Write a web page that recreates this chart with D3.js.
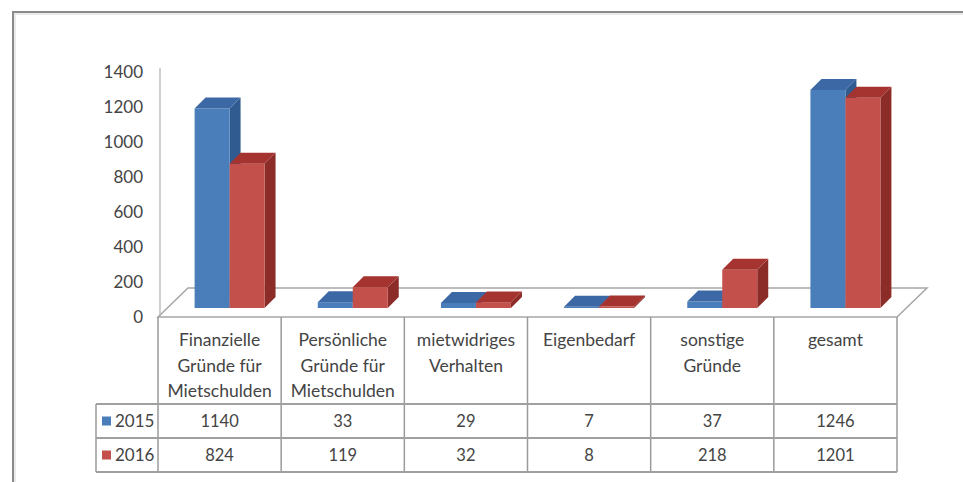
<!DOCTYPE html>
<html>
<head>
<meta charset="utf-8">
<script src="https://cdn.jsdelivr.net/npm/d3@7"></script>
<style>
  body { margin: 0; background: #fff; }
  text { font-family: Lato, "Open Sans", sans-serif; fill: #444; }
</style>
</head>
<body>
<div class="container"></div>
<script>
var categories = [
    ['Finanzielle', 'Gründe für', 'Mietschulden'],
    ['Persönliche', 'Gründe für', 'Mietschulden'],
    ['mietwidriges', 'Verhalten'],
    ['Eigenbedarf'],
    ['sonstige', 'Gründe'],
    ['gesamt']
];
var seriesNames = ['2015', '2016'];
var values2015 = [1140, 33, 29, 7, 37, 1246];
var values2016 = [824, 119, 32, 8, 218, 1201];
var yTicks = [0, 200, 400, 600, 800, 1000, 1200, 1400];

const WIDTH = 963;
const HEIGHT = 482;
const FLOOR_Y = 317;
const TABLE_LEFT = 96;
const PLOT_LEFT = 158;
const PLOT_RIGHT = 897;
const DEPTH = {x: 30, y: -29};
const BAR_OFFSET = {x: 10, y: -9};
const BAR_DEPTH = {x: 11, y: -11};

var colors = {
    '2015': {front: '#4a7ebb', side: '#2f5b90', top: '#3c69a5'},
    '2016': {front: '#c4504c', side: '#8c2c29', top: '#a5332f'}
};

var catIndex = categories.map(function (c, i) { return i; });

var seriesData = [
    {name: seriesNames[0], values: values2015},
    {name: seriesNames[1], values: values2016}
];

var poly = function (pts) {
    return pts.map(function (p) { return p[0] + ',' + p[1]; }).join(' ');
};

var visualize = function () {
    var svg = d3.select('.container').append('svg')
        .attr('width', WIDTH)
        .attr('height', HEIGHT);

    svg.append('rect').attr('width', WIDTH).attr('height', HEIGHT).attr('fill', '#fff');

    // outer frame
    svg.append('path')
        .attr('d', 'M13,' + HEIGHT + 'V12H' + WIDTH)
        .attr('fill', 'none')
        .attr('stroke', '#8a8a8a')
        .attr('stroke-width', 2);
    svg.append('path')
        .attr('d', 'M15,' + HEIGHT + 'V14H' + WIDTH)
        .attr('fill', 'none')
        .attr('stroke', '#e4e4e4')
        .attr('stroke-width', 1.5);

    var yScale = d3.scaleLinear().domain([0, 1400]).range([FLOOR_Y, 72]);
    var x0 = d3.scaleBand().domain(catIndex).range([PLOT_LEFT, PLOT_RIGHT]).paddingInner(0);
    var x1 = d3.scaleBand().domain(seriesNames).range([0, x0.bandwidth()]).paddingOuter(0.76).paddingInner(0);

    // floor
    svg.append('polygon')
        .attr('points', poly([
            [PLOT_LEFT, FLOOR_Y],
            [PLOT_LEFT + DEPTH.x, FLOOR_Y + DEPTH.y],
            [PLOT_RIGHT + DEPTH.x, FLOOR_Y + DEPTH.y],
            [PLOT_RIGHT, FLOOR_Y]
        ]))
        .attr('fill', '#fff')
        .attr('stroke', '#a6a6a6')
        .attr('stroke-width', 1.5);

    // value axis
    svg.append('line')
        .attr('x1', PLOT_LEFT + 2).attr('x2', PLOT_LEFT + 2)
        .attr('y1', FLOOR_Y).attr('y2', 68)
        .attr('stroke', '#b0b0b0')
        .attr('stroke-width', 1.2);

    svg.append('g').selectAll('text')
        .data(yTicks)
        .enter().append('text')
        .attr('x', 143)
        .attr('y', function (d) { return yScale(d); })
        .attr('dy', '0.35em')
        .attr('text-anchor', 'end')
        .style('font-size', '17px')
        .text(function (d) { return d; });

    // bars
    var bars = [];
    catIndex.forEach(function (ci) {
        seriesData.forEach(function (s) {
            bars.push({cat: ci, name: s.name, value: s.values[ci]});
        });
    });

    var barGroup = svg.append('g').classed('bars', true);
    bars.forEach(function (b) {
        var xl = x0(b.cat) + x1(b.name) + BAR_OFFSET.x;
        var xr = xl + x1.bandwidth();
        var yb = FLOOR_Y + BAR_OFFSET.y;
        var yt = yScale(b.value) + BAR_OFFSET.y;
        var c = colors[b.name];
        barGroup.append('polygon')
            .attr('points', poly([[xr, yb], [xr, yt], [xr + BAR_DEPTH.x, yt + BAR_DEPTH.y], [xr + BAR_DEPTH.x, yb + BAR_DEPTH.y]]))
            .attr('fill', c.side);
        barGroup.append('rect')
            .attr('x', xl).attr('y', yt)
            .attr('width', xr - xl).attr('height', yb - yt)
            .attr('fill', c.front);
        barGroup.append('polygon')
            .attr('points', poly([[xl, yt], [xl + BAR_DEPTH.x, yt + BAR_DEPTH.y], [xr + BAR_DEPTH.x, yt + BAR_DEPTH.y], [xr, yt]]))
            .attr('fill', c.top);
    });

    // data table
    var rowLines = [404, 438, 472];
    var table = svg.append('g').classed('table', true);

    x0.domain().concat([catIndex.length]).forEach(function (ci) {
        var x = ci < catIndex.length ? x0(ci) : PLOT_RIGHT;
        table.append('line')
            .attr('x1', x).attr('x2', x)
            .attr('y1', FLOOR_Y).attr('y2', rowLines[2])
            .attr('stroke', '#9a9a9a').attr('stroke-width', 1.5);
    });
    table.append('line')
        .attr('x1', TABLE_LEFT).attr('x2', TABLE_LEFT)
        .attr('y1', rowLines[0]).attr('y2', rowLines[2])
        .attr('stroke', '#9a9a9a').attr('stroke-width', 1.5);
    rowLines.forEach(function (y) {
        table.append('line')
            .attr('x1', TABLE_LEFT).attr('x2', PLOT_RIGHT)
            .attr('y1', y).attr('y2', y)
            .attr('stroke', '#a0a0a0').attr('stroke-width', 2.2);
    });

    categories.forEach(function (lines, ci) {
        var cx = x0(ci) + x0.bandwidth() / 2;
        lines.forEach(function (line, li) {
            table.append('text')
                .attr('x', cx)
                .attr('y', 346 + li * 25.5)
                .attr('text-anchor', 'middle')
                .style('font-size', '17.5px')
                .text(line);
        });
    });

    seriesData.forEach(function (s, si) {
        var cy = (rowLines[si] + rowLines[si + 1]) / 2;
        table.append('rect')
            .attr('x', 102).attr('y', cy - 4.5)
            .attr('width', 9).attr('height', 9)
            .attr('fill', colors[s.name].front);
        table.append('text')
            .attr('x', 115).attr('y', cy)
            .attr('dy', '0.35em')
            .style('font-size', '17px')
            .text(s.name);
        s.values.forEach(function (v, ci) {
            table.append('text')
                .attr('x', x0(ci) + x0.bandwidth() / 2)
                .attr('y', cy)
                .attr('dy', '0.35em')
                .attr('text-anchor', 'middle')
                .style('font-size', '16.5px')
                .text(v);
        });
    });
};

window.onload = visualize;
</script>
</body>
</html>
